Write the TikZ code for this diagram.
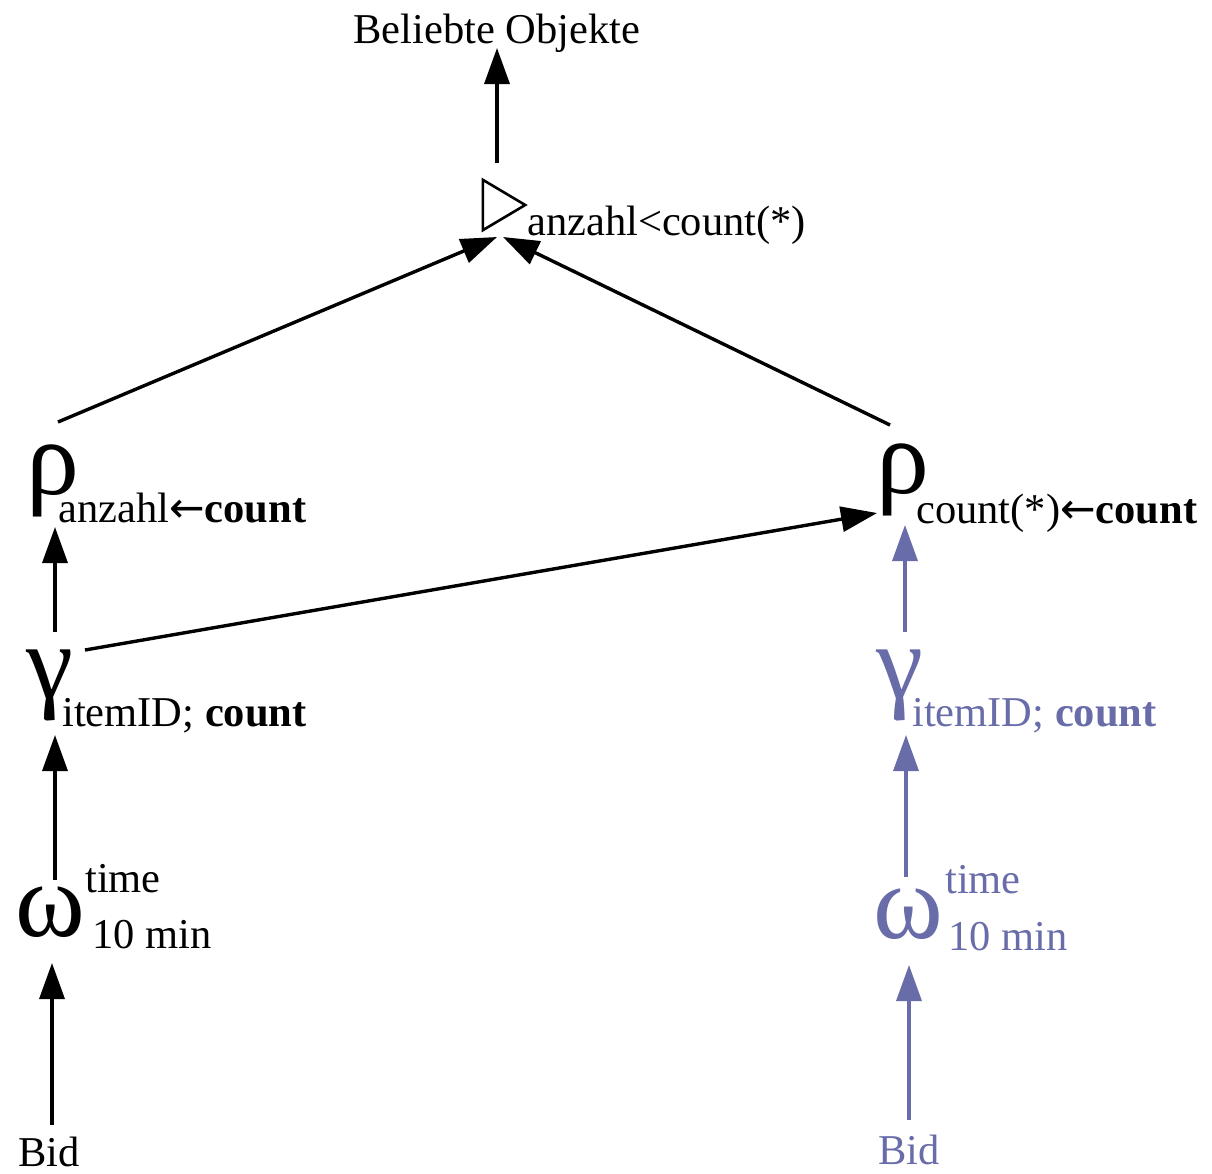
\documentclass[tikz,border=0pt]{standalone}
\usepackage{fontspec}
\setmainfont{Liberation Serif}
\newfontfamily\arrowfont{DejaVu Sans}
\usetikzlibrary{arrows.meta}
\definecolor{opblue}{RGB}{104,108,168}
\newcommand{\larr}{{\arrowfont ←}}
\begin{document}
\begin{tikzpicture}[x=1pt,y=-1pt,
  lbl/.style={inner sep=0pt, anchor=base west, font=\fontsize{42.5}{50}\selectfont},
  greek/.style={inner sep=0pt, anchor=center, font=\fontsize{106}{120}\selectfont},
  arr/.style={line width=3.4pt, -{Triangle[length=36pt,width=25pt]}},
  blueop/.style={text=opblue},
  bluearr/.style={arr, draw=opblue, fill=opblue},
  ]
\useasboundingbox (0,0) rectangle (1212,1173);

% top result
\node[lbl, anchor=base] (beliebt) at (497,43) {Beliebte Objekte};

% semi-join / antijoin operator
\node[inner sep=0pt, minimum width=42pt, minimum height=50pt] (semi) at (504,205) {};
\draw[line width=2.6pt, line join=miter] (semi.north west) -- (semi.east) -- (semi.south west) -- cycle;
\node[lbl] (semisub) at (527,235) {anzahl<count(*)};

% left branch
\node[greek] (rhoL) at (53,481) {ρ};
\node[lbl] (rhoLsub) at (58,522) {anzahl\larr\textbf{count}};
\node[greek] (gamL) at (50,685) {γ};
\node[lbl] (gamLsub) at (62,726) {itemID; \textbf{count}};
\node[greek] (omL) at (50,912) {ω};
\node[lbl] (omLsup) at (85,892) {time};
\node[lbl] (omLsub) at (92,948) {10 min};
\node[lbl] (bidL) at (18,1166) {Bid};

% right branch
\node[greek] (rhoR) at (903,480) {ρ};
\node[lbl] (rhoRsub) at (916,523) {count(*)\larr\textbf{count}};
\node[greek, blueop] (gamR) at (900,685) {γ};
\node[lbl, blueop] (gamRsub) at (912,726) {itemID; \textbf{count}};
\node[greek, blueop] (omR) at (908,914) {ω};
\node[lbl, blueop] (omRsup) at (945,893) {time};
\node[lbl, blueop] (omRsub) at (948,950) {10 min};
\node[lbl, blueop] (bidR) at (878,1164) {Bid};

% connector end points
\coordinate (semiTop) at (497,163);
\coordinate (beliebtIn) at (497,48);
\coordinate (semiInL) at (497,237);
\coordinate (semiInR) at (503,237);
\coordinate (rhoLout) at (58,422);
\coordinate (rhoRout) at (890,425);
\coordinate (gamLcross) at (85,650);
\coordinate (rhoRcross) at (877,513);
\coordinate (rhoLin) at (55,527);
\coordinate (gamLout) at (55,632);
\coordinate (gamLin) at (55,735);
\coordinate (omLout) at (55,880);
\coordinate (omLin) at (52,963);
\coordinate (bidLout) at (52,1125);
\coordinate (rhoRin) at (905,525);
\coordinate (gamRout) at (905,632);
\coordinate (gamRin) at (906,735);
\coordinate (omRout) at (906,877);
\coordinate (omRin) at (909,965);
\coordinate (bidRout) at (909,1120);

% connectors
\draw[arr] (semiTop) -- (beliebtIn);
\draw[arr] (rhoLout) -- (semiInL);
\draw[arr] (rhoRout) -- (semiInR);
\draw[arr] (gamLcross) -- (rhoRcross);
\draw[arr] (gamLout) -- (rhoLin);
\draw[arr] (omLout) -- (gamLin);
\draw[arr] (bidLout) -- (omLin);
\draw[bluearr] (gamRout) -- (rhoRin);
\draw[bluearr] (omRout) -- (gamRin);
\draw[bluearr] (bidRout) -- (omRin);
\end{tikzpicture}
\end{document}
